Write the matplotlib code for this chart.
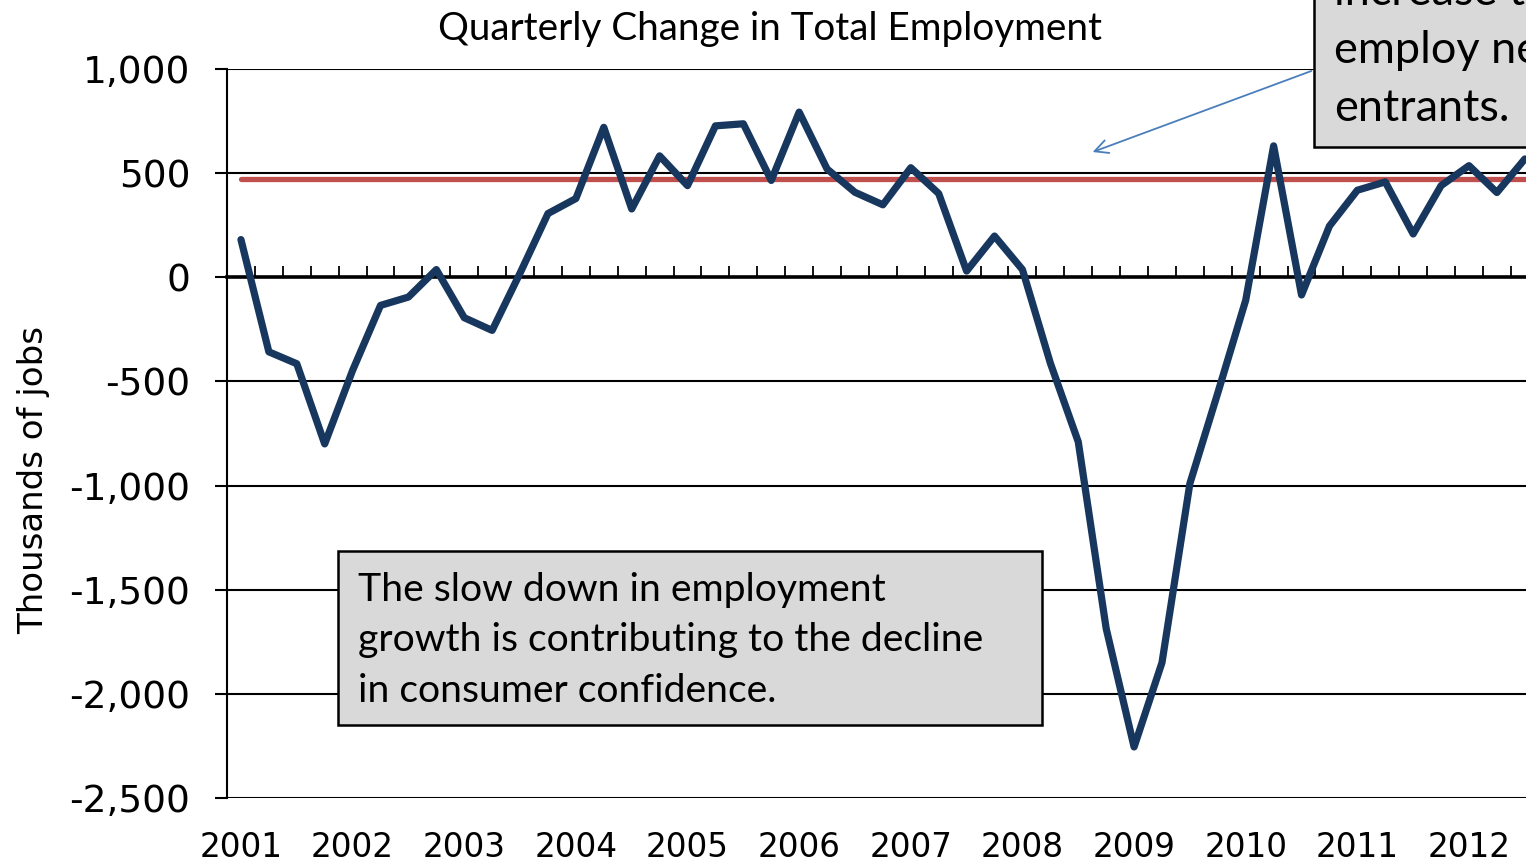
import matplotlib
matplotlib.use('Agg')
import matplotlib.pyplot as plt
from matplotlib.patches import Rectangle, FancyArrowPatch
from matplotlib.ticker import FuncFormatter

# ---- data ----
quarters = [f"{y} Q{q}" for y in range(2001, 2013) for q in range(1, 5)][:47]
year_labels = [str(y) for y in range(2001, 2013)]
employment_change = [181, -358, -415, -800, -447, -135, -95, 37, -194, -255,
                     20, 306, 378, 720, 328, 583, 440, 727, 737, 465,
                     793, 520, 408, 348, 526, 402, 30, 198, 37, -412,
                     -790, -1686, -2255, -1850, -990, -555, -110, 631, -85, 246,
                     418, 458, 208, 440, 536, 407, 568]
average_change = [470] * len(quarters)
y_ticks = [1000, 500, 0, -500, -1000, -1500, -2000, -2500]

W, H = 1526, 863
fig = plt.figure(figsize=(W / 100, H / 100), dpi=100)

def fx(px):
    return px / W

def fy(py):
    return 1 - py / H

ax = fig.add_axes([fx(227), fy(798), 1 - fx(227), (798 - 69) / H])

x = list(range(len(quarters)))
ax.plot(x, average_change, color='#C0504D', lw=3.8, solid_capstyle='round', zorder=3)
ax.plot(x, employment_change, color='#17375E', lw=5.2, solid_capstyle='round',
        solid_joinstyle='round', zorder=4)

step = 27.91
ax.set_xticks([i + 0.5 for i in range(len(quarters) - 1)])
ax.set_yticks(y_ticks)
ax.set_xlim(-0.5, (W - 227) / step - 0.5)
ax.set_ylim(-2500, 1000)
ax.yaxis.set_major_formatter(FuncFormatter(lambda v, p: f"{int(v):,}"))
ax.yaxis.grid(True, color='black', lw=1.5)
ax.set_axisbelow(True)

for s in ['top', 'right']:
    ax.spines[s].set_visible(False)
ax.spines['left'].set_linewidth(1.5)
ax.spines['bottom'].set_position(('data', 0))
ax.spines['bottom'].set_linewidth(2.6)
ax.spines['bottom'].set_zorder(2.5)

ax.tick_params(axis='x', direction='in', length=8, width=1.3, labelbottom=False)
ax.tick_params(axis='y', direction='out', length=9, width=1.5, pad=17.5,
               labelsize=27)
for lab in ax.get_yticklabels():
    lab.set_fontfamily('DejaVu Sans')

sec = ax.secondary_xaxis('bottom')
sec.set_xticks(x[::4])
sec.set_xticklabels(year_labels, fontsize=23.5, fontfamily='DejaVu Sans')
sec.tick_params(length=0, pad=24)
sec.spines['bottom'].set_visible(False)

fig.text(fx(34), fy(480), 'Thousands of jobs', rotation=90, ha='center', va='center',
         fontsize=24.5, fontfamily='DejaVu Sans')
fig.text(fx(770), fy(29), 'Quarterly Change in Total Employment', ha='center', va='center',
         fontsize=27.8, fontfamily='Lato')

# text box 1
fig.add_artist(Rectangle((fx(338), fy(725)), fx(1042 - 338), (725 - 551) / H,
                         transform=fig.transFigure, facecolor='#D9D9D9',
                         edgecolor='black', lw=1.8, zorder=10))
for txt, base in [('The slow down in employment', 601),
                  ('growth is contributing to the decline', 651),
                  ('in consumer confidence.', 702)]:
    fig.text(fx(358), fy(base), txt, ha='left', va='baseline', fontsize=28.2,
             fontfamily='Lato', zorder=11)

# text box 2 (partly outside the visible area, as in the source)
fig.add_artist(Rectangle((fx(1314), fy(147)), fx(400), 300 / H,
                         transform=fig.transFigure, facecolor='#D9D9D9',
                         edgecolor='black', lw=1.8, zorder=10))
for txt, base in [('increase to', 5), ('employ new', 63), ('entrants.', 121)]:
    fig.text(fx(1334), fy(base), txt, ha='left', va='baseline', fontsize=32.5,
             fontfamily='Lato', zorder=11)

fig.add_artist(FancyArrowPatch(
    (fx(1314), fy(70)), (fx(1090), fy(153)), transform=fig.transFigure,
    arrowstyle='->', mutation_scale=24, color='#4A7EBB', lw=1.3, zorder=9))

fig.savefig('out.png', dpi=100)
